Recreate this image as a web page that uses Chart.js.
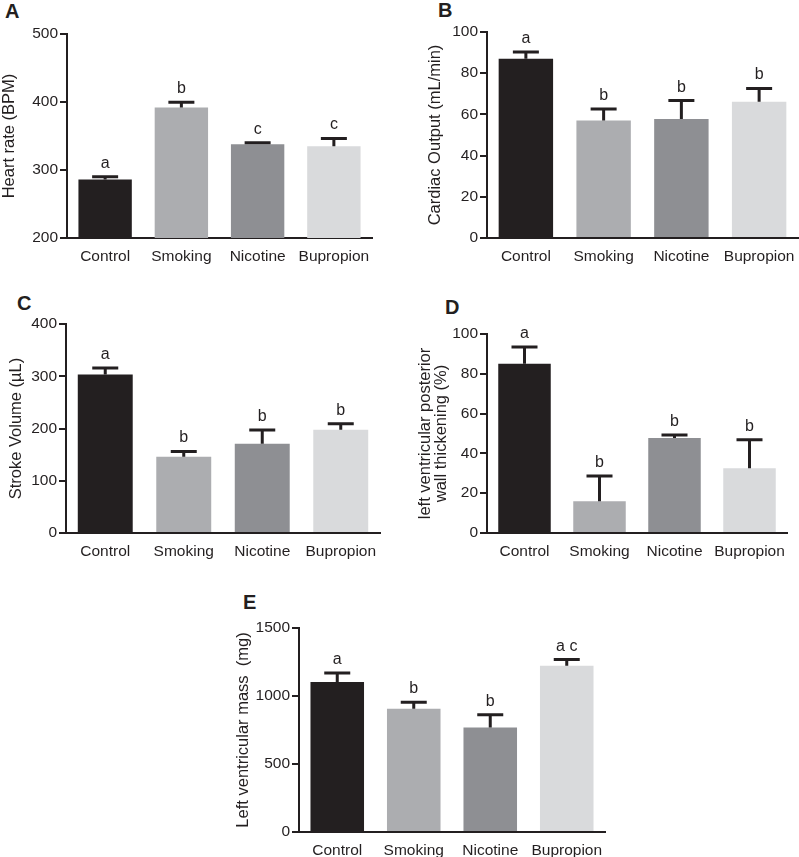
<!DOCTYPE html>
<html><head><meta charset="utf-8">
<script src="https://cdn.jsdelivr.net/npm/chart.js@4.4.1/dist/chart.umd.min.js"></script>
<style>
body{margin:0;background:#fff;width:799px;height:857px;position:relative;overflow:hidden;font-family:"Liberation Sans",Arial,sans-serif;}
canvas{position:absolute;}
.lbl{position:absolute;font-weight:bold;font-size:20px;color:#231f20;line-height:1;font-family:"Liberation Sans",Arial,sans-serif;}
</style></head><body>
<div class="lbl" style="left:5px;top:1px">A</div>
<div class="lbl" style="left:438px;top:0px">B</div>
<div class="lbl" style="left:17px;top:293px">C</div>
<div class="lbl" style="left:445px;top:297px">D</div>
<div class="lbl" style="left:243px;top:592px">E</div>
<canvas id="cA" width="400" height="280" style="left:0;top:0"></canvas>
<canvas id="cB" width="399" height="280" style="left:400px;top:0"></canvas>
<canvas id="cC" width="400" height="290" style="left:0;top:280px"></canvas>
<canvas id="cD" width="399" height="290" style="left:400px;top:280px"></canvas>
<canvas id="cE" width="420" height="277" style="left:200px;top:580px"></canvas>
<script>
// ---- data ----
const categories = ['Control', 'Smoking', 'Nicotine', 'Bupropion'];
const barColors = ['#231f20', '#acadb0', '#8e8f93', '#d9dadc'];

const heartRate = [286, 392, 338, 335];
const heartRateErr = [4, 7.5, 2, 11.5];
const heartRateLetters = ['a', 'b', 'c', 'c'];
const heartRateTicks = [200, 300, 400, 500];

const cardiacOutput = [87, 57, 57.8, 66.1];
const cardiacOutputErr = [3.3, 5.6, 8.9, 6.5];
const cardiacOutputLetters = ['a', 'b', 'b', 'b'];
const cardiacOutputTicks = [0, 20, 40, 60, 80, 100];

const strokeVolume = [303.5, 146, 171, 197.7];
const strokeVolumeErr = [12.3, 10, 26, 11.3];
const strokeVolumeLetters = ['a', 'b', 'b', 'b'];
const strokeVolumeTicks = [0, 100, 200, 300, 400];

const wallThickening = [85, 15.9, 47.7, 32.6];
const wallThickeningErr = [8.5, 12.8, 1.6, 14.2];
const wallThickeningLetters = ['a', 'b', 'b', 'b'];
const wallThickeningTicks = [0, 20, 40, 60, 80, 100];

const lvMass = [1103, 907, 768, 1223];
const lvMassErr = [66, 47, 95, 45];
const lvMassLetters = ['a', 'b', 'b', 'a c'];
const lvMassTicks = [0, 500, 1000, 1500];

const INK = '#231f20';
const FONT = '"Liberation Sans", Arial, sans-serif';

function makeErrPlugin(errs, letters) {
  return {
    id: 'errbars',
    afterDatasetsDraw(chart) {
      const ctx = chart.ctx;
      const y = chart.scales.y;
      const meta = chart.getDatasetMeta(0);
      const vals = chart.data.datasets[0].data;
      ctx.save();
      ctx.strokeStyle = INK;
      ctx.fillStyle = INK;
      ctx.lineWidth = 3;
      ctx.lineCap = 'butt';
      ctx.font = '16px ' + FONT;
      ctx.textAlign = 'center';
      ctx.textBaseline = 'alphabetic';
      meta.data.forEach((bar, i) => {
        const top = y.getPixelForValue(vals[i] + errs[i]);
        ctx.beginPath();
        ctx.moveTo(bar.x, bar.y);
        ctx.lineTo(bar.x, top);
        ctx.moveTo(bar.x - 13, top);
        ctx.lineTo(bar.x + 13, top);
        ctx.stroke();
        ctx.fillText(letters[i], bar.x, top - 9);
      });
      ctx.restore();
    }
  };
}

function makeChart(id, values, errs, letters, ticks, title, geo) {
  const tmin = ticks[0], tmax = ticks[ticks.length - 1];
  return new Chart(document.getElementById(id), {
    type: 'bar',
    data: {
      labels: categories,
      datasets: [{
        data: values,
        backgroundColor: barColors,
        borderWidth: 0,
        categoryPercentage: 1,
        barPercentage: 0.7
      }]
    },
    options: {
      responsive: false,
      animation: false,
      devicePixelRatio: 1,
      layout: { padding: { top: geo.top, right: geo.right, left: 0, bottom: 0 } },
      plugins: { legend: { display: false }, tooltip: { enabled: false } },
      scales: {
        x: {
          grid: { display: false },
          border: { display: true, color: INK, width: 2 },
          ticks: { color: INK, font: { family: FONT, size: 15.5 }, padding: geo.xpad, maxRotation: 0, autoSkip: false },
          afterFit(s) { s.height = geo.xh; }
        },
        y: {
          min: tmin, max: tmax, beginAtZero: false,
          afterBuildTicks(s) { s.ticks = ticks.map(v => ({ value: v })); },
          grid: { drawOnChartArea: false, drawTicks: true, tickLength: 7, color: INK, lineWidth: 2 },
          border: { display: true, color: INK, width: 2 },
          ticks: { color: INK, font: { family: FONT, size: 15.5 }, padding: 2, callback: v => String(v) },
          title: { display: true, text: title, color: INK, font: { family: FONT, size: 16.5, lineHeight: geo.tlh || 1.2 }, padding: { top: geo.tpad, bottom: 0 } },
          afterFit(s) { s.width = geo.yw; }
        }
      }
    },
    plugins: [makeErrPlugin(errs, letters)]
  });
}

makeChart('cA', heartRate, heartRateErr, heartRateLetters, heartRateTicks, 'Heart rate (BPM)',
  { top: 34, right: 28, yw: 67, xh: 42, xpad: 1, tpad: 0 });
makeChart('cB', cardiacOutput, cardiacOutputErr, cardiacOutputLetters, cardiacOutputTicks, 'Cardiac Output (mL/min)',
  { top: 32, right: 1, yw: 87, xh: 42, xpad: 1, tpad: 26 });
makeChart('cC', strokeVolume, strokeVolumeErr, strokeVolumeLetters, strokeVolumeTicks, 'Stroke Volume (\u00b5L)',
  { top: 44, right: 20, yw: 66, xh: 37, xpad: 1, tpad: 7 });
makeChart('cD', wallThickening, wallThickeningErr, wallThickeningLetters, wallThickeningTicks, ['left ventricular posterior', 'wall thickening (%)'],
  { top: 54, right: 12, yw: 87, xh: 37, xpad: 1, tpad: 17, tlh: 1.0 });
makeChart('cE', lvMass, lvMassErr, lvMassLetters, lvMassTicks, 'Left ventricular mass  (mg)',
  { top: 48, right: 15, yw: 99, xh: 25, xpad: 1, tpad: 34 });
</script>
</body></html>
